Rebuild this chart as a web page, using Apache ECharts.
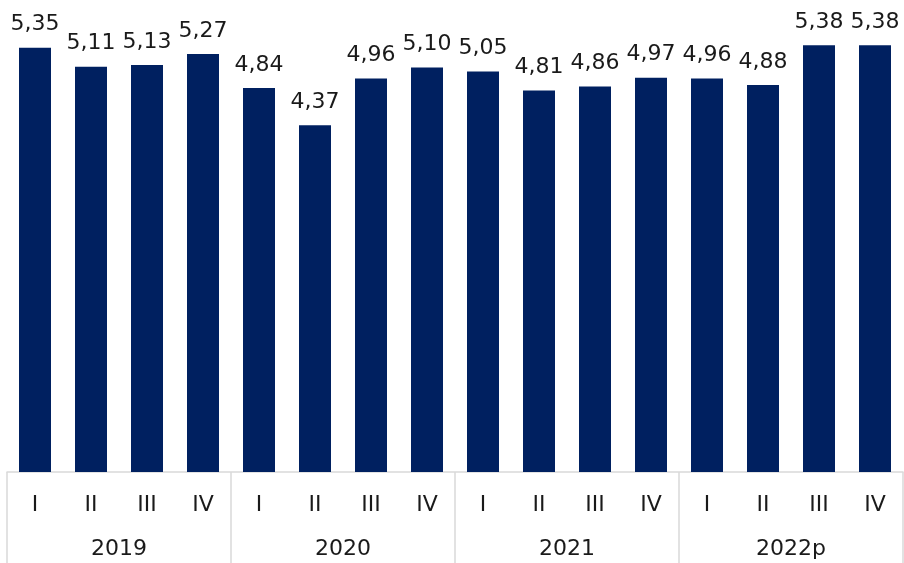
<!DOCTYPE html>
<html>
<head>
<meta charset="utf-8">
<style>
  html, body { margin: 0; padding: 0; background: #fff; }
  #chart { width: 904px; height: 563px; }
</style>
<script src="https://cdn.jsdelivr.net/npm/echarts@6/dist/echarts.min.js"></script>
</head>
<body>
<div id="chart"></div>
<script>
// datos trimestrales
var years = ['2019', '2020', '2021', '2022p'];
var quarters = ['I', 'II', 'III', 'IV'];
var values = [
  5.35, 5.11, 5.13, 5.27,
  4.84, 4.37, 4.96, 5.10,
  5.05, 4.81, 4.86, 4.97,
  4.96, 4.88, 5.38, 5.38
];

var quarterCats = [];
years.forEach(function (y) {
  quarters.forEach(function (q) {
    quarterCats.push(q);
  });
});

var font = 'DejaVu Sans';
var gridColor = '#d9d9d9';

var chart = echarts.init(document.getElementById('chart'), null, { renderer: 'canvas' });

var option = {
  backgroundColor: '#fff',
  animation: false,
  grid: {
    left: 7,
    right: 1,
    top: 4,
    bottom: 91
  },
  xAxis: [{
    type: 'category',
    data: quarterCats,
    position: 'bottom',
    axisLine: { show: true, lineStyle: { color: gridColor, width: 1.5 } },
    axisTick: { show: false },
    axisLabel: {
      interval: 0,
      margin: 22,
      fontFamily: font,
      fontSize: 22,
      color: '#1a1a1a'
    }
  }, {
    type: 'category',
    data: years,
    position: 'bottom',
    axisLine: { show: false },
    axisTick: {
      show: true,
      length: 91,
      lineStyle: { color: gridColor, width: 1.5 }
    },
    axisLabel: {
      interval: 0,
      margin: 66,
      fontFamily: font,
      fontSize: 22,
      color: '#1a1a1a'
    }
  }],
  yAxis: {
    type: 'value',
    min: 0,
    max: 5.9,
    show: false,
    splitLine: { show: false }
  },
  series: [{
    type: 'bar',
    xAxisIndex: 0,
    data: values,
    barWidth: 32,
    itemStyle: { color: '#002060' },
    label: {
      show: true,
      position: 'top',
      distance: 12,
      fontFamily: font,
      fontSize: 22,
      color: '#1a1a1a',
      formatter: function (p) {
        return p.value.toFixed(2).replace('.', ',');
      }
    }
  }]
};

chart.setOption(option);
</script>
</body>
</html>
